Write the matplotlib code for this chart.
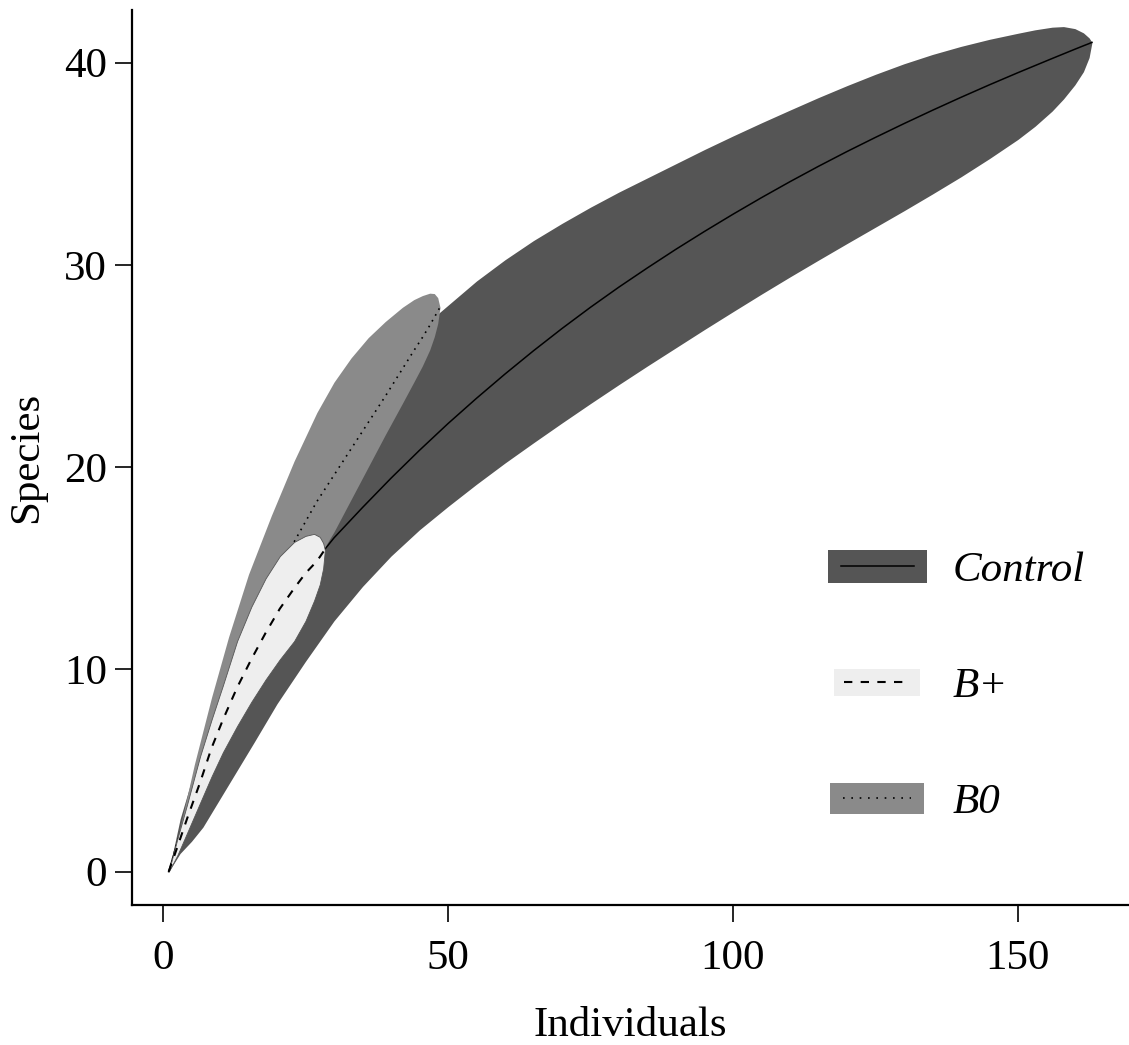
import matplotlib
matplotlib.use("Agg")
import matplotlib.pyplot as plt
from matplotlib.patches import Patch, Rectangle
from matplotlib.lines import Line2D
from matplotlib.legend_handler import HandlerBase

# ---------------- data ----------------
ctrl_x = [1, 3, 5, 7, 10, 13, 16, 20, 25, 30, 35, 40, 45, 50, 55, 60, 65, 70, 75,
          80, 85, 90, 95, 100, 105, 110, 115, 120, 125, 130, 135, 140, 145, 150,
          153, 156, 158, 160, 161.5, 162.5, 163]
ctrl_mean = [0, 1.9, 3.6, 5.2, 7.3, 9.1, 10.8, 12.7, 14.75, 16.5, 18.0, 19.45,
             20.83, 22.15, 23.4, 24.6, 25.75, 26.85, 27.9, 28.9, 29.85, 30.77,
             31.65, 32.5, 33.32, 34.11, 34.87, 35.6, 36.3, 36.98, 37.64, 38.28,
             38.9, 39.5, 39.85, 40.2, 40.43, 40.66, 40.83, 40.94, 41.0]
ctrl_upper = [0, 2.6, 4.5, 6.3, 8.9, 11.2, 13.4, 16.0, 18.9, 21.4, 23.5, 25.3, 26.8,
              28.0, 29.2, 30.25, 31.2, 32.05, 32.85, 33.6, 34.3, 35.0, 35.7, 36.37,
              37.02, 37.65, 38.27, 38.86, 39.42, 39.94, 40.4, 40.8, 41.15, 41.45,
              41.62, 41.75, 41.78, 41.68, 41.47, 41.22, 41.0]
ctrl_lower = [0, 0.9, 1.5, 2.2, 3.6, 5.0, 6.4, 8.3, 10.4, 12.4, 14.1, 15.6, 16.9,
              18.05, 19.15, 20.2, 21.2, 22.18, 23.14, 24.08, 25.0, 25.9, 26.8, 27.68,
              28.55, 29.4, 30.23, 31.05, 31.86, 32.67, 33.5, 34.35, 35.25, 36.2,
              36.85, 37.6, 38.2, 38.9, 39.55, 40.25, 41.0]

b0_x = [1, 3, 5.5, 8.5, 11.5, 15, 19, 23, 27, 30, 33, 36, 39, 42, 44, 45.5, 46.8,
        47.6, 48.2, 48.6]
b0_mean = [0, 1.9, 4.1, 6.6, 8.9, 11.3, 13.9, 16.3, 18.3, 19.6, 20.9, 22.2, 23.5,
           24.85, 25.75, 26.4, 27.0, 27.4, 27.7, 27.9]
b0_upper = [0, 2.2, 5.3, 8.6, 11.6, 14.7, 17.6, 20.3, 22.7, 24.2, 25.4, 26.4, 27.2,
            27.9, 28.28, 28.48, 28.6, 28.58, 28.38, 27.9]
b0_lower = [0, 1.2, 3.2, 5.4, 7.4, 9.5, 11.7, 13.8, 15.4, 16.8, 18.4, 20.0, 21.6,
            23.15, 24.2, 25.0, 25.8, 26.45, 27.1, 27.9]

bp_x = [1, 2.5, 4.2, 6.5, 8.5, 10.5, 13, 15.5, 18, 20.5, 23, 25, 26.5, 27.5, 28.1,
        28.4]
bp_mean = [0, 1.2, 2.6, 4.4, 6.1, 7.5, 9.1, 10.5, 11.8, 13.0, 14.0, 14.75, 15.2,
           15.55, 15.8, 15.9]
bp_upper = [0, 1.6, 3.3, 5.7, 7.5, 9.2, 11.4, 13.1, 14.5, 15.6, 16.3, 16.6, 16.7,
            16.55, 16.25, 15.9]
bp_lower = [0, 0.8, 1.9, 3.4, 4.7, 5.9, 7.2, 8.4, 9.5, 10.5, 11.4, 12.4, 13.4,
            14.2, 15.0, 15.9]

labels = ["Control", "B+", "B0"]
x_ticks = [0, 50, 100, 150]
y_ticks = [0, 10, 20, 30, 40]

# ---------------- styling ----------------
plt.rcParams["font.family"] = ["Liberation Serif", "DejaVu Serif"]
C_CTRL = "#555555"
C_B0 = "#8a8a8a"
C_BP = "#eeeeee"
DOT = (0, (1, 3))
DASH = (0, (4, 4))

W, H = 1129, 1045
fig = plt.figure(figsize=(W / 100, H / 100), dpi=100)
ax = fig.add_axes([132 / W, (H - 905) / H, (W - 132) / W, (905 - 10) / H])

ax.fill_between(ctrl_x, ctrl_lower, ctrl_upper, color=C_CTRL, lw=0, zorder=1)
ax.plot(ctrl_x, ctrl_mean, color="black", lw=1.1, zorder=2)
ax.fill_between(b0_x, b0_lower, b0_upper, color=C_B0, lw=0, zorder=3)
ax.plot(b0_x, b0_mean, color="black", lw=1.2, ls=DOT, zorder=4)
ax.fill_between(bp_x, bp_lower, bp_upper, facecolor=C_BP, edgecolor="#555555",
                lw=0.6, zorder=5)
ax.plot(bp_x, bp_mean, color="black", lw=1.5, ls=DASH, zorder=6)

ax.set_xlim(-5.44, 169.5)
ax.set_ylim(-1.65, 42.6)
ax.set_xticks(x_ticks)
ax.set_yticks(y_ticks)
for s in ["top", "right"]:
    ax.spines[s].set_visible(False)
for s in ["left", "bottom"]:
    ax.spines[s].set_linewidth(1.6)
ax.tick_params(direction="out", length=12, width=1.2, labelsize=31, pad=6)
ax.tick_params(axis="x", pad=13)
ax.set_xlabel("Individuals", fontsize=31, labelpad=20)
ax.set_ylabel("Species", fontsize=31, labelpad=13)


class BandHandler(HandlerBase):
    def __init__(self, face, ls, lw, wf, hf, inset):
        super().__init__()
        self.face, self.ls, self.lw = face, ls, lw
        self.wf, self.hf, self.inset = wf, hf, inset

    def create_artists(self, legend, orig_handle, xdescent, ydescent, width,
                       height, fontsize, trans):
        w = width * self.wf
        h = height * self.hf
        x0 = -xdescent + (width - w) / 2
        y0 = -ydescent + (height - h) / 2
        rect = Rectangle((x0, y0), w, h, facecolor=self.face, edgecolor="none",
                         transform=trans)
        yc = y0 + h / 2
        line = Line2D([x0 + w * self.inset, x0 + w * (1 - self.inset)], [yc, yc],
                      color="black", lw=self.lw, ls=self.ls, transform=trans)
        return [rect, line]


h_ctrl = Patch(label=labels[0])
h_bp = Patch(label=labels[1])
h_b0 = Patch(label=labels[2])
hmap = {
    h_ctrl: BandHandler(C_CTRL, "-", 1.1, 1.0, 1.0, 0.13),
    h_bp: BandHandler(C_BP, DASH, 1.5, 0.87, 0.83, 0.12),
    h_b0: BandHandler(C_B0, (0, (1, 4)), 1.2, 0.95, 0.91, 0.14),
}
leg = ax.legend(handles=[h_ctrl, h_bp, h_b0], handler_map=hmap, frameon=False,
                loc="center left", bbox_to_anchor=(827.7 / W, 1 - 686 / H),
                bbox_transform=fig.transFigure, borderpad=0, borderaxespad=0,
                handlelength=2.3, handleheight=0.82, handletextpad=0.6,
                labelspacing=1.75, prop={"size": 31, "style": "italic"})

fig.savefig("out.png", dpi=100)
